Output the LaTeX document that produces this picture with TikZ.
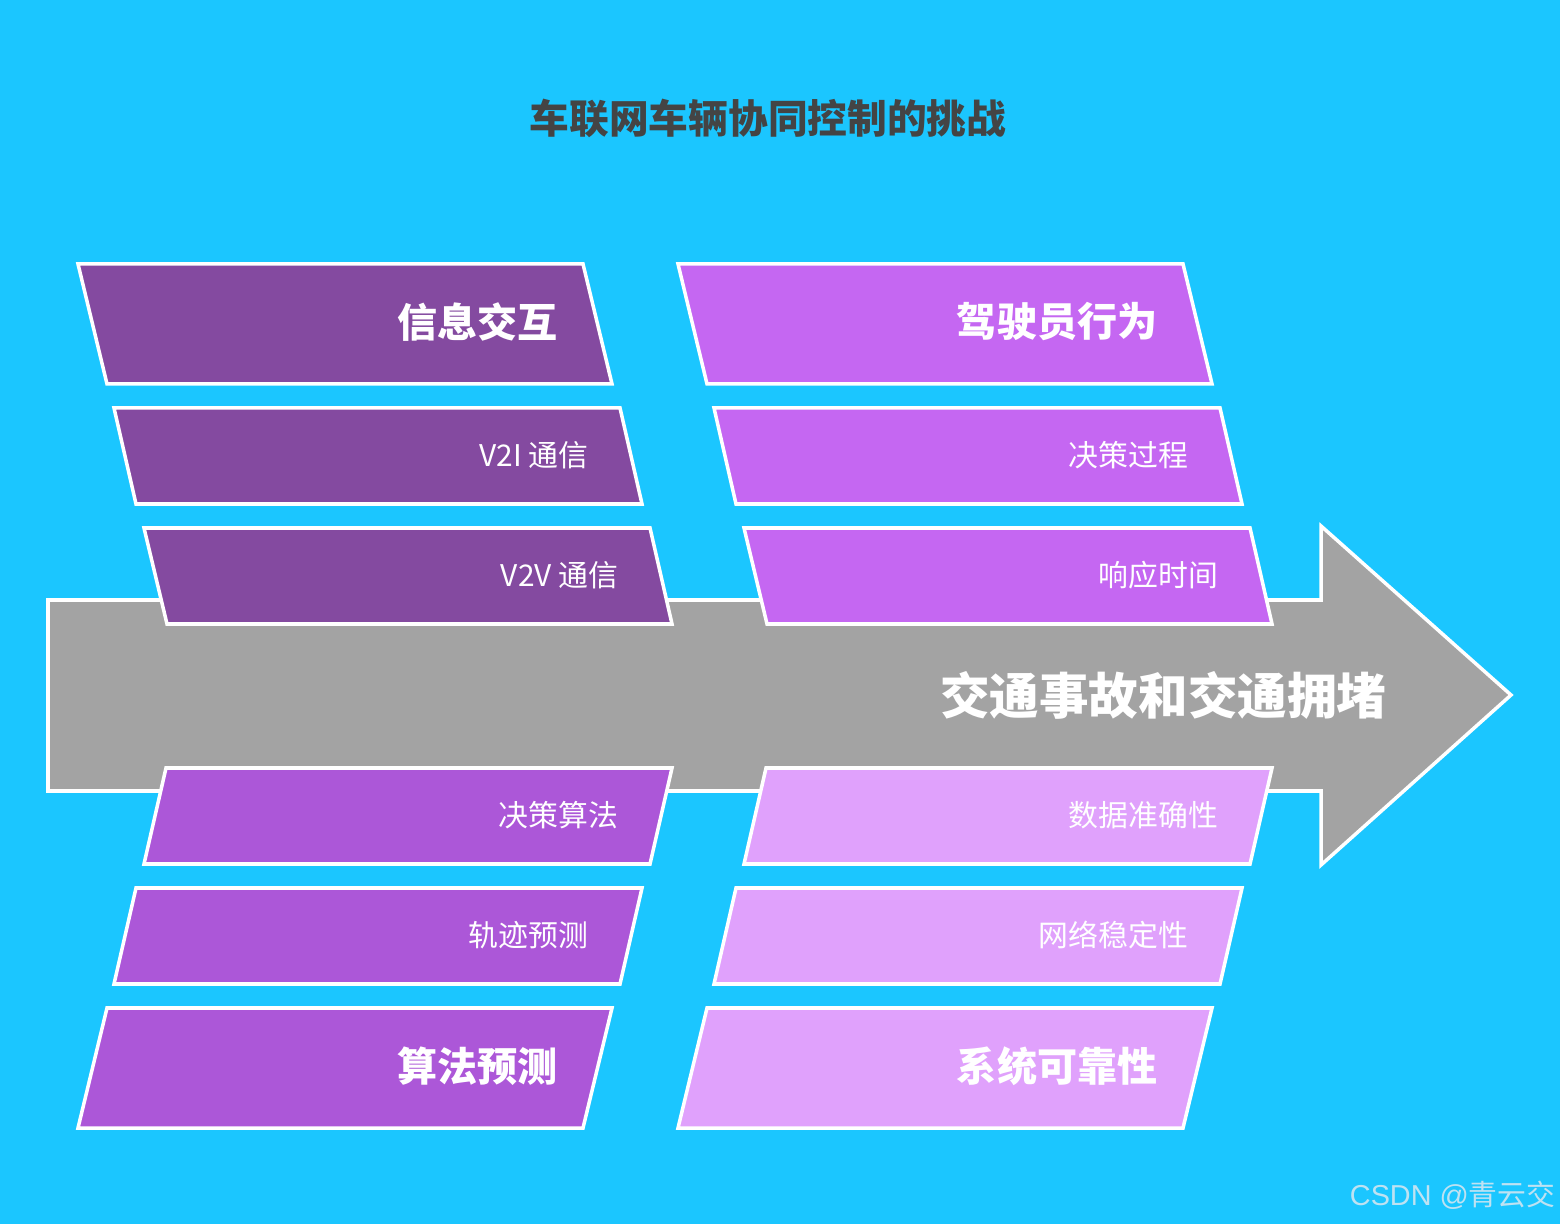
\documentclass[tikz,border=0pt]{standalone}
\usepackage{fontspec}
\setmainfont{Noto Sans CJK SC}
\newfontfamily\wmfont{Liberation Sans}
\newfontfamily\wmcjk{Noto Sans CJK SC}
\usetikzlibrary{positioning}

\definecolor{skybg}{RGB}{27,198,255}
\definecolor{darkviolet}{RGB}{132,74,160}
\definecolor{brightviolet}{RGB}{197,103,242}
\definecolor{midviolet}{RGB}{172,87,216}
\definecolor{paleviolet}{RGB}{224,161,252}
\definecolor{shaftgray}{RGB}{163,163,163}
\definecolor{titlegray}{RGB}{68,68,68}
\definecolor{markgray}{RGB}{190,226,242}

\tikzset{
  edge/.style = {draw = white, line width = 1pt, line join = miter},
  bigtext/.style = {text = white, font = \fontsize{11.4}{13}\selectfont\bfseries, anchor = east, inner sep = 0pt},
  smalltext/.style = {text = white, font = \fontsize{8.5}{10}\selectfont, anchor = east, inner sep = 0pt},
}

\begin{document}
\begin{tikzpicture} [scale = 1]
\useasboundingbox (0.0, 0.0) rectangle (15.6, 12.24);
\fill[skybg] (0.0, 0.0) rectangle (15.6, 12.24);
\node[text = titlegray, font = \fontsize{11.3}{13}\selectfont\bfseries] (title) at (7.68, 11.06){车联网车辆协同控制的挑战};
% the big arrow
\draw[edge, fill = shaftgray] (0.48, 6.24) -- (13.21, 6.24) -- (13.21, 6.98) -- (15.11, 5.29) -- (13.21, 3.59) -- (13.21, 4.33) -- (0.48, 4.33) -- cycle;
\node[text = white, font = \fontsize{14.1}{16}\selectfont\bfseries, anchor = east, inner sep = 0pt] (effect) at (13.87, 5.29){交通事故和交通拥堵};
% upper left
\draw[edge, fill = darkviolet] (0.78, 9.60) -- (5.83, 9.60) -- (6.12, 8.40) -- (1.07, 8.40) -- cycle;
\node[bigtext] (info) at (5.58, 9.02){信息交互};
\draw[edge, fill = darkviolet] (1.14, 8.16) -- (6.20, 8.16) -- (6.42, 7.20) -- (1.36, 7.20) -- cycle;
\node[smalltext] (vtoi) at (5.89, 7.69){V2I 通信};
\draw[edge, fill = darkviolet] (1.44, 6.96) -- (6.50, 6.96) -- (6.72, 6.00) -- (1.67, 6.00) -- cycle;
\node[smalltext] (vtov) at (6.19, 6.49){V2V 通信};
% upper right
\draw[edge, fill = brightviolet] (6.78, 9.60) -- (11.83, 9.60) -- (12.12, 8.40) -- (7.07, 8.40) -- cycle;
\node[bigtext] (driver) at (11.58, 9.02){驾驶员行为};
\draw[edge, fill = brightviolet] (7.14, 8.16) -- (12.20, 8.16) -- (12.42, 7.20) -- (7.36, 7.20) -- cycle;
\node[smalltext] (decide) at (11.89, 7.69){决策过程};
\draw[edge, fill = brightviolet] (7.44, 6.96) -- (12.50, 6.96) -- (12.72, 6.00) -- (7.67, 6.00) -- cycle;
\node[smalltext] (react) at (12.19, 6.49){响应时间};
% lower left
\draw[edge, fill = midviolet] (1.66, 4.56) -- (6.72, 4.56) -- (6.50, 3.60) -- (1.44, 3.60) -- cycle;
\node[smalltext] (algo) at (6.19, 4.09){决策算法};
\draw[edge, fill = midviolet] (1.36, 3.36) -- (6.42, 3.36) -- (6.20, 2.40) -- (1.14, 2.40) -- cycle;
\node[smalltext] (track) at (5.89, 2.89){轨迹预测};
\draw[edge, fill = midviolet] (1.07, 2.16) -- (6.12, 2.16) -- (5.83, 0.96) -- (0.78, 0.96) -- cycle;
\node[bigtext] (predict) at (5.58, 1.58){算法预测};
% lower right
\draw[edge, fill = paleviolet] (7.66, 4.56) -- (12.72, 4.56) -- (12.50, 3.60) -- (7.44, 3.60) -- cycle;
\node[smalltext] (data) at (12.19, 4.09){数据准确性};
\draw[edge, fill = paleviolet] (7.36, 3.36) -- (12.42, 3.36) -- (12.20, 2.40) -- (7.14, 2.40) -- cycle;
\node[smalltext] (network) at (11.89, 2.89){网络稳定性};
\draw[edge, fill = paleviolet] (7.07, 2.16) -- (12.12, 2.16) -- (11.83, 0.96) -- (6.78, 0.96) -- cycle;
\node[bigtext] (system) at (11.58, 1.58){系统可靠性};
% watermark
\node[text = markgray, anchor = east, font = \fontsize{8.2}{10}\selectfont, inner sep = 0pt] (mark) at (15.56, 0.29){\wmfont CSDN @\wmcjk 青云交};
\end{tikzpicture}
\end{document}
